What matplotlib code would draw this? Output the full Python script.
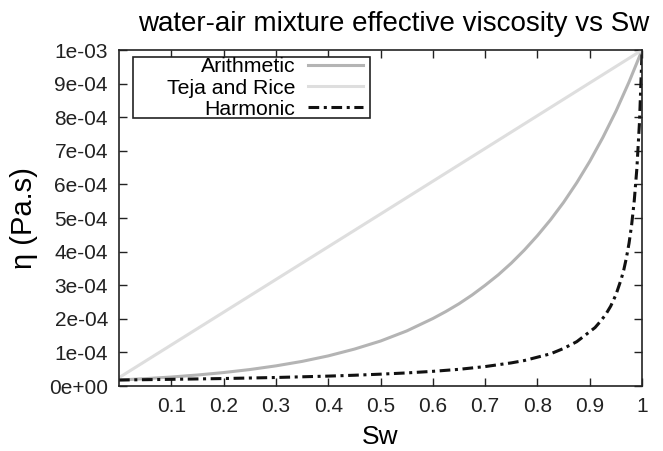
import matplotlib
matplotlib.use("Agg")
import matplotlib.pyplot as plt
from matplotlib.patches import Rectangle

plt.rcParams['font.family'] = ['Liberation Sans', 'DejaVu Sans']

# saturation grid for the curved series
sw = [0.0, 0.05, 0.1, 0.15, 0.2, 0.25, 0.3, 0.35, 0.4, 0.45, 0.5,
      0.55, 0.6, 0.625, 0.65, 0.675, 0.7, 0.725, 0.75, 0.775, 0.8, 0.825,
      0.85, 0.875, 0.9, 0.925, 0.95, 0.975, 1.0]
arith = [1.80e-5, 2.20e-5, 2.69e-5, 3.29e-5, 4.02e-5, 4.91e-5, 6.01e-5,
         7.34e-5, 8.98e-5, 1.10e-4, 1.34e-4, 1.64e-4, 2.01e-4, 2.22e-4,
         2.45e-4, 2.71e-4, 3.00e-4, 3.31e-4, 3.66e-4, 4.05e-4, 4.48e-4,
         4.95e-4, 5.47e-4, 6.05e-4, 6.69e-4, 7.40e-4, 8.18e-4, 9.05e-4,
         1.0e-3]

sw_teja = [0.0, 0.5, 1.0]
teja = [2.5e-5, 5.12e-4, 1.0e-3]

sw_harm = [0.0, 0.1, 0.2, 0.3, 0.4, 0.45, 0.5, 0.55, 0.6, 0.65, 0.7, 0.75,
           0.775, 0.8, 0.825, 0.85, 0.875, 0.9, 0.91, 0.92, 0.93, 0.94,
           0.95, 0.96, 0.965, 0.97, 0.975, 0.98, 0.985, 0.99, 0.995, 1.0]
harm = [1.80e-5, 2.00e-5, 2.24e-5, 2.55e-5, 2.96e-5, 3.22e-5, 3.54e-5,
        3.91e-5, 4.38e-5, 4.98e-5, 5.80e-5, 6.90e-5, 7.60e-5, 8.60e-5,
        9.60e-5, 1.12e-4, 1.32e-4, 1.62e-4, 1.74e-4, 1.92e-4, 2.12e-4,
        2.38e-4, 2.72e-4, 3.18e-4, 3.46e-4, 3.82e-4, 4.25e-4, 4.80e-4,
        5.52e-4, 6.48e-4, 7.86e-4, 1.0e-3]

xticks = [0.1, 0.2, 0.3, 0.4, 0.5, 0.6, 0.7, 0.8, 0.9, 1.0]
xticklabels = ['0.1', '0.2', '0.3', '0.4', '0.5', '0.6', '0.7', '0.8', '0.9', '1']
yticks = [0, 1e-4, 2e-4, 3e-4, 4e-4, 5e-4, 6e-4, 7e-4, 8e-4, 9e-4, 1e-3]

fig = plt.figure(figsize=(6.63, 4.51), dpi=100)
ax = fig.add_axes([0.1795, 0.144, 0.789, 0.745])

ax.plot(sw, arith, color='#b4b4b4', lw=2.2, label='Arithmetic')
ax.plot(sw_teja, teja, color='#dedede', lw=2.2, label='Teja and Rice')
ax.plot(sw_harm, harm, color='#111111', lw=2.2, dashes=(3.5, 1.5, 1.0, 1.5),
        label='Harmonic')

ax.set_xlim(0, 1)
ax.set_ylim(0, 1e-3)
ax.set_xticks(xticks)
ax.set_xticklabels(xticklabels)
ax.set_yticks(yticks)
ax.set_yticklabels(['%.0e' % v for v in yticks])
ax.tick_params(direction='in', length=6, width=1, top=True, right=True,
               labelsize=15, pad=8, colors='#222222')
for s in ax.spines.values():
    s.set_linewidth(1.2)
    s.set_color('#222222')

ax.set_title('water-air mixture effective viscosity vs Sw', fontsize=20,
             pad=14, x=0.525)
ax.set_xlabel('Sw', fontsize=19, labelpad=6)
ax.set_ylabel('η (Pa.s)', fontsize=21, labelpad=8)

# gnuplot-style key: text right-aligned, sample on the right, wide box
box = Rectangle((0.027, 0.798), 0.453, 0.181, transform=ax.transAxes,
                facecolor='white', edgecolor='#222222', lw=1.2, zorder=4)
ax.add_patch(box)
leg = ax.legend(loc='upper right', bbox_to_anchor=(0.467, 0.978), borderaxespad=0,
                markerfirst=False, fontsize=15.3, frameon=False,
                handlelength=2.6, handletextpad=0.6,
                labelspacing=0.1, borderpad=0)
leg.set_zorder(5)

fig.savefig('out.png', dpi=100)
